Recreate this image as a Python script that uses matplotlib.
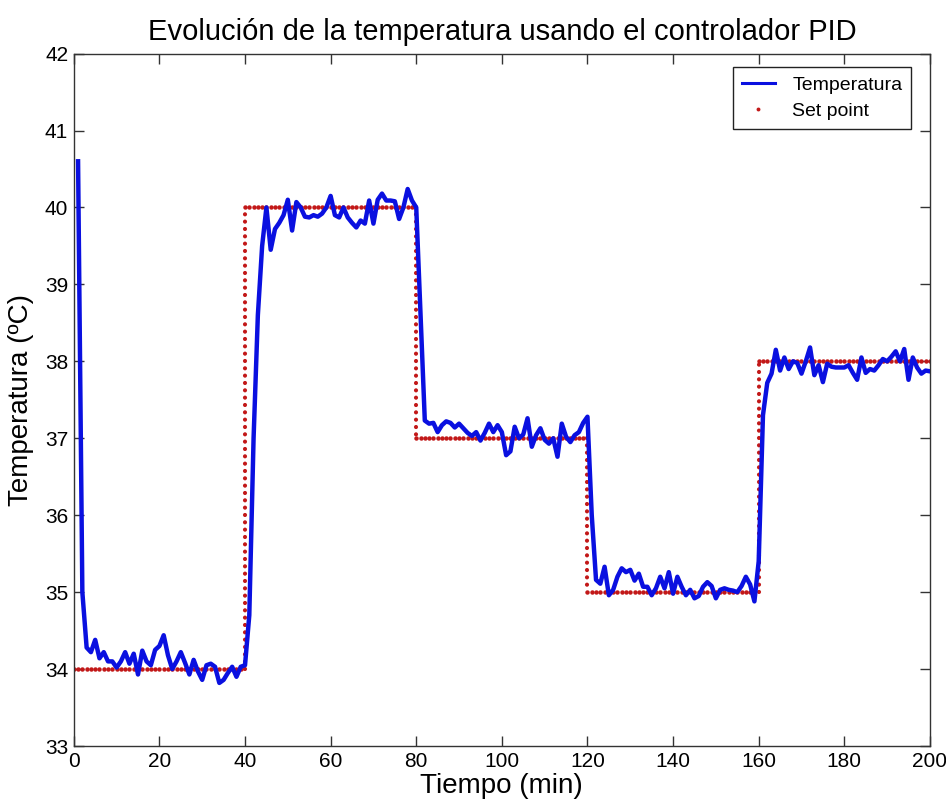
import numpy as np
import matplotlib.pyplot as plt
from matplotlib.lines import Line2D

plt.rcParams['font.family'] = ['Liberation Sans', 'DejaVu Sans']

#datos de temperatura (una muestra por minuto, t = 1..200)
tiempo = np.arange(1, 201)

temp_1 = [40.6, 35.0, 34.28, 34.22, 34.38, 34.14, 34.22, 34.1, 34.1, 34.02,
          34.1, 34.22, 34.07, 34.2, 33.93, 34.24, 34.1, 34.05, 34.25, 34.3,
          34.44, 34.18, 34.0, 34.1, 34.22, 34.08, 33.93, 34.12, 33.97, 33.86,
          34.05, 34.07, 34.03, 33.82, 33.86, 33.95, 34.03, 33.9, 34.03, 34.05]
temp_2 = [34.7, 37.0, 38.6, 39.5, 40.0, 39.45, 39.72, 39.8, 39.9, 40.1,
          39.7, 40.07, 40.0, 39.88, 39.87, 39.9, 39.88, 39.92, 40.0, 40.15,
          39.9, 39.87, 40.0, 39.87, 39.8, 39.74, 39.83, 39.79, 40.09, 39.79,
          40.1, 40.18, 40.09, 40.09, 40.08, 39.85, 40.0, 40.24, 40.09, 40.0]
temp_3 = [38.6, 37.23, 37.19, 37.2, 37.08, 37.17, 37.22, 37.2, 37.14, 37.19,
          37.13, 37.07, 37.03, 37.08, 36.97, 37.07, 37.19, 37.08, 37.17, 37.08,
          36.78, 36.83, 37.15, 37.0, 37.05, 37.26, 36.89, 37.04, 37.13, 36.98,
          36.93, 37.0, 36.76, 37.19, 37.02, 36.95, 37.04, 37.08, 37.2, 37.28]
temp_4 = [36.0, 35.16, 35.11, 35.33, 34.96, 35.03, 35.2, 35.31, 35.26, 35.29,
          35.15, 35.24, 35.07, 35.07, 34.96, 35.05, 35.2, 35.05, 35.26, 34.98,
          35.2, 35.07, 34.96, 35.03, 34.92, 34.95, 35.07, 35.13, 35.08, 34.92,
          35.03, 35.05, 35.03, 35.02, 35.0, 35.08, 35.2, 35.1, 34.88, 35.4]
temp_5 = [37.3, 37.72, 37.84, 38.15, 37.88, 38.05, 37.9, 38.0, 37.98, 37.84,
          38.0, 38.18, 37.82, 37.95, 37.73, 37.97, 37.93, 37.92, 37.92, 37.92,
          37.95, 37.85, 37.76, 38.05, 37.85, 37.9, 37.88, 37.95, 38.03, 38.0,
          38.06, 38.13, 38.0, 38.16, 37.76, 38.05, 37.92, 37.84, 37.88, 37.87]
temperatura = np.array(temp_1 + temp_2 + temp_3 + temp_4 + temp_5)

#set point por tramos
cambios_sp = [0, 40, 80, 120, 160, 200]
niveles_sp = [34, 40, 37, 35, 38]

t_sp = np.arange(0, 201)
sp = np.zeros(len(t_sp))
for i in range(len(niveles_sp)):
    mask = (t_sp >= cambios_sp[i]) & (t_sp <= cambios_sp[i + 1])
    sp[mask] = niveles_sp[i]

ROJO = '#c21818'
AZUL = '#0a10e0'

fig = plt.figure(figsize=(9.46, 8.08), dpi=100)
ax = fig.add_axes([0.078, 0.0767, 0.905, 0.857])

#tramos verticales del set point (punteados)
for i in range(1, len(niveles_sp)):
    ax.plot([cambios_sp[i], cambios_sp[i]], [niveles_sp[i - 1], niveles_sp[i]],
            color=ROJO, linewidth=3.0, linestyle=(0, (0.01, 1.75)),
            dash_capstyle='round', zorder=2)
#tramos horizontales: un punto por minuto
ax.plot(t_sp, sp, linestyle='none', marker='o', markersize=3.2,
        markeredgewidth=0, color=ROJO, zorder=2)

ax.plot(tiempo, temperatura, color=AZUL, linewidth=3.2, zorder=3)

ax.set_xlim(0, 200)
ax.set_ylim(33, 42)
ax.set_xticks(np.arange(0, 201, 20))
ax.set_yticks(np.arange(33, 43, 1))
ax.tick_params(direction='in', length=7, width=1, top=True, right=True,
               labelsize=15, colors='#333333', labelcolor='black', pad=4)
for s in ax.spines.values():
    s.set_color('#333333')
    s.set_linewidth(1)

ax.set_title('Evolución de la temperatura usando el controlador PID', fontsize=21, pad=10)
ax.set_xlabel('Tiempo (min)', fontsize=20, labelpad=2)
ax.set_ylabel('Temperatura (ºC)', fontsize=20, labelpad=8)

#leyenda
handles = [Line2D([], [], color=AZUL, linewidth=2.2),
           Line2D([], [], linestyle='none', marker='o', markersize=2.8,
                  markeredgewidth=0, color=ROJO)]
leg = ax.legend(handles, ['Temperatura', 'Set point'], loc='upper right',
                bbox_to_anchor=(0.978, 0.98), borderaxespad=0, fontsize=14,
                fancybox=False, framealpha=1, edgecolor='#222222',
                handlelength=1.7, handletextpad=0.9, labelspacing=0.45,
                borderpad=0.45)
leg.get_frame().set_linewidth(1)

plt.savefig('out.png', dpi=100)
